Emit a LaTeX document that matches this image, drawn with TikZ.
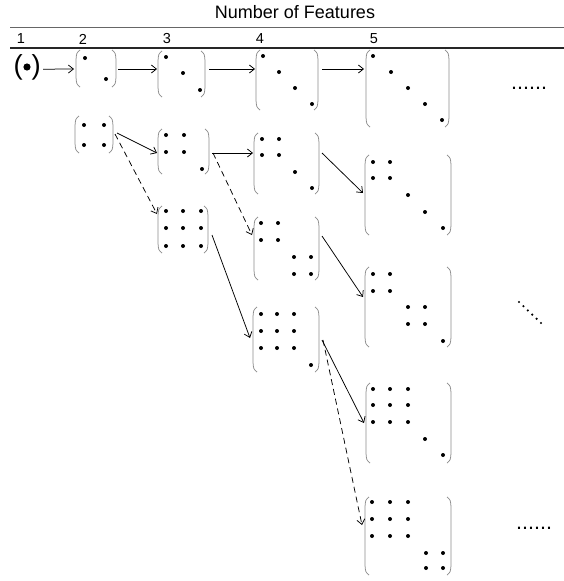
\documentclass[tikz,border=0pt]{standalone}
\usepackage{fontspec}
\setmainfont{Liberation Sans}
\usetikzlibrary{calc,arrows.meta}
\tikzset{
 br/.style={draw=black!45, line width=0.75pt},
 mbox/.style={inner sep=0pt, outer sep=0pt, rectangle},
 dt/.style={fill=black},
 arr/.style={-{Straight Barb[length=5pt,width=8pt]}, line width=0.75pt},
 darr/.style={arr, dash pattern=on 6pt off 4pt},
 lbl/.style={font=\fontsize{14.5}{16}\selectfont, inner sep=0pt},
 ell/.style={font=\fontsize{21.5}{24}\selectfont, inner sep=0pt, anchor=base west},
}
\newcommand\Mtx[5]{%
 \node[mbox, minimum width={#4pt-#2pt}, minimum height={#5pt-#3pt}] (#1) at ({(#2+#4)/2},{(#3+#5)/2}) {};
 \draw[br] ($(#1.north west)+(4,0)$) .. controls ($(#1.north west)+(0.5,3)$) .. ($(#1.north west)+(0,10)$) -- ($(#1.south west)+(0,-10)$) .. controls ($(#1.south west)+(0.5,-3)$) .. ($(#1.south west)+(4,0)$);
 \draw[br] ($(#1.north east)+(-4,0)$) .. controls ($(#1.north east)+(-0.5,3)$) .. ($(#1.north east)+(0,10)$) -- ($(#1.south east)+(0,-10)$) .. controls ($(#1.south east)+(-0.5,-3)$) .. ($(#1.south east)+(-4,0)$);
}
\newcommand\MDots[2]{\foreach \dx in {#1}{\foreach \dy in {#2}{\fill[dt] (\dx,\dy) circle[radius=2pt];}}}
\begin{document}
\begin{tikzpicture}[x=1pt,y=-1pt]
\useasboundingbox (0,0) rectangle (564,581);
% header
\node[font=\fontsize{18}{20}\selectfont, inner sep=0pt] (title) at (295,12.5) {Number of Features};
\draw[black!60, line width=1.7pt] (10,27.5) -- (564,27.5);
\draw[black!85, line width=1.3pt] (10,48) -- (564,48);
\node[lbl] (n1) at (21,39) {1};
\node[lbl] (n2) at (83,39) {2};
\node[lbl] (n3) at (167,39) {3};
\node[lbl] (n4) at (260,39) {4};
\node[lbl] (n5) at (374,39) {5};
% first matrix
\node[font=\fontsize{27.5}{30}\selectfont, inner sep=0pt, anchor=base west] (m1) at (13.5,74.2) {(\hspace{8.8pt})};
\fill[dt] (27,67) circle[radius=3.6pt];
% row 1
\Mtx{MA2}{76}{50}{116}{87}
\MDots{85}{58} \MDots{106}{79}
\Mtx{MA3}{158}{51}{205}{97}
\MDots{166}{57} \MDots{183}{73} \MDots{200}{90}
\Mtx{MA4}{256}{50}{318}{110}
\MDots{263}{56} \MDots{279}{72} \MDots{295}{88} \MDots{312}{104}
\Mtx{MA5}{366}{50}{449}{127}
\MDots{373}{56} \MDots{391}{72} \MDots{408}{88} \MDots{425}{104} \MDots{442}{120}
% column 2
\Mtx{MB2}{75}{116}{113}{153}
\MDots{84,104}{125,145}
% column 3
\Mtx{MB3}{158}{129}{209}{174}
\MDots{166,184}{135,152} \MDots{202}{169}
\Mtx{MC3}{158}{206}{208}{253}
\MDots{166,183,201}{211,228,246}
% column 4
\Mtx{MB4}{254}{133}{319}{194}
\MDots{262,279}{139,155} \MDots{295}{172} \MDots{312}{188}
\Mtx{MC4}{254}{217}{319}{280}
\MDots{261,278}{223,240} \MDots{294,311}{257,274}
\Mtx{MD4}{253}{307}{319}{372}
\MDots{261,277,294}{314,331,348} \MDots{311}{365}
% column 5
\Mtx{MB5}{365}{155}{451}{235}
\MDots{373,390}{162,178} \MDots{408}{195} \MDots{425}{212} \MDots{443}{228}
\Mtx{MC5}{365}{267}{451}{347}
\MDots{373,390}{274,291} \MDots{408,425}{307,324} \MDots{443}{341}
\Mtx{MD5}{366}{383}{451}{463}
\MDots{373,390,408}{389,405,422} \MDots{425}{439} \MDots{443}{455}
\Mtx{ME5}{365}{497}{451}{575}
\MDots{372,390,408}{502,519,536} \MDots{426,443}{553,568}
% ellipses
\node[ell] (e1) at (511,89.3) {......};
\foreach \k in {0,...,5} \fill[dt] ({519+4.4*\k},{302+4.2*\k}) circle[radius=1.2pt];
\node[ell] (e3) at (516,529.5) {......};
% arrows row 1
\draw[arr] ($(m1.base east)+(2,-5)$) -- ($(MA2.north west)+(-2,19)$);
\draw[arr] ($(MA2.north east)+(2,19)$) -- ($(MA3.north west)+(-1,18)$);
\draw[arr] ($(MA3.north east)+(4,18)$) -- ($(MA4.north west)+(-1,19)$);
\draw[arr] ($(MA4.north east)+(4,19)$) -- ($(MA5.north west)+(-2,19)$);
% lower arrows
\draw[arr] ($(MB2.north east)+(4,17)$) -- ($(MB3.north west)+(-1,24)$);
\draw[darr] ($(MB2.north east)+(2,18)$) -- ($(MC3.north west)+(-1,8)$);
\draw[arr] ($(MB3.north east)+(3,24)$) -- ($(MB4.north west)+(-1,20)$);
\draw[darr] ($(MB3.north east)+(4,24)$) -- ($(MC4.north west)+(-2,18)$);
\draw[arr] ($(MC3.north east)+(4,29)$) -- ($(MD4.north west)+(-3,31)$);
\draw[arr] ($(MB4.north east)+(3,20)$) -- ($(MB5.north west)+(-2,38)$);
\draw[arr] ($(MC4.north east)+(3,19)$) -- ($(MC5.north west)+(-2,30)$);
\draw[arr] ($(MD4.north east)+(3,33)$) -- ($(MD5.north west)+(-2,40)$);
\draw[darr] ($(MD4.north east)+(4,33)$) -- ($(ME5.north west)+(-3,28)$);
\end{tikzpicture}
\end{document}
